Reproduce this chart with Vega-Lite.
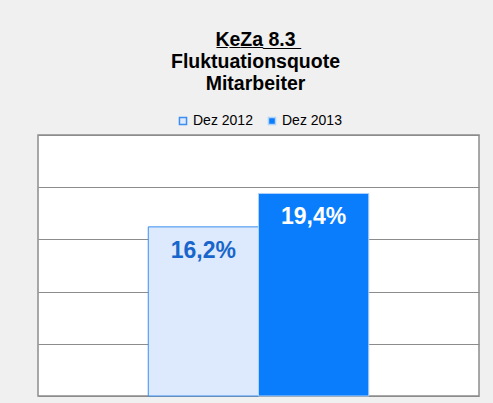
{
  "$schema": "https://vega.github.io/schema/vega-lite/v6.json",
  "width": 441,
  "height": 261,
  "padding": {"left": 38, "right": 14, "top": 29, "bottom": 7},
  "background": "#f0f0f0",
  "title": {
    "text": ["K\u0332e\u0332Z\u0332a\u0332 \u03328\u0332.\u03323\u0332", "Fluktuationsquote", "Mitarbeiter"],
    "font": "Liberation Sans",
    "fontSize": 19.5,
    "fontWeight": "bold",
    "lineHeight": 22,
    "color": "#000000",
    "anchor": "middle",
    "dx": -3,
    "offset": 20
  },
  "data": {
    "values": [
      {"Jahr": "Dez 2012", "Quote": 16.2, "Label": "16,2%"},
      {"Jahr": "Dez 2013", "Quote": 19.4, "Label": "19,4%"}
    ]
  },
  "encoding": {
    "x": {"field": "Jahr", "type": "nominal", "axis": null, "scale": {"paddingInner": 0, "paddingOuter": 1}},
    "y": {"field": "Quote", "type": "quantitative", "scale": {"domain": [0, 25], "nice": false},
      "axis": {"values": [0, 5, 10, 15, 20, 25], "grid": true, "gridColor": "#8c8c8c", "gridWidth": 1, "gridOpacity": 1, "labels": false, "ticks": false, "domain": false, "title": null}}
  },
  "layer": [
    {
      "mark": {"type": "bar", "strokeWidth": 1},
      "encoding": {
        "fill": {"field": "Jahr", "type": "nominal", "scale": {"domain": ["Dez 2012", "Dez 2013"], "range": ["#dde9fc", "#0a7dfd"]},
          "legend": {"orient": "top", "direction": "horizontal", "title": null, "symbolType": "square", "symbolSize": 50, "symbolStrokeWidth": 1.5, "labelFontSize": 14, "labelFont": "Liberation Sans", "labelColor": "#000000", "labelOffset": 3, "columnPadding": 12, "offset": 7}},
        "stroke": {"field": "Jahr", "type": "nominal", "scale": {"domain": ["Dez 2012", "Dez 2013"], "range": ["#3a8ff0", "#b0d2f8"]}, "legend": {"orient": "top", "direction": "horizontal", "title": null, "symbolType": "square"}}
      }
    },
    {
      "mark": {"type": "text", "baseline": "alphabetic", "dy": 31, "font": "Liberation Sans", "fontSize": 23, "fontWeight": "bold"},
      "encoding": {
        "text": {"field": "Label"},
        "color": {"condition": {"test": "datum.Jahr === 'Dez 2012'", "value": "#1866cc"}, "value": "#ffffff"}
      }
    }
  ],
  "config": {
    "view": {"fill": "#ffffff", "stroke": "#8c8c8c", "strokeWidth": 1.5},
    "legend": {"layout": {"top": {"anchor": "middle"}}}
  }
}
